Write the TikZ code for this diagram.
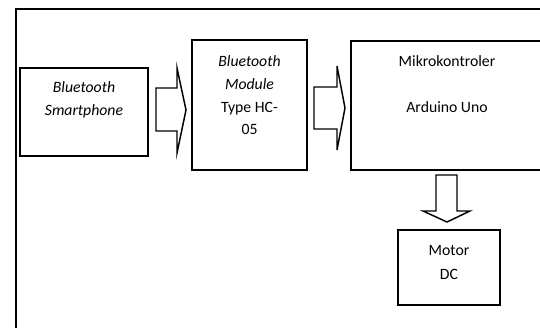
\documentclass[tikz,border=0pt]{standalone}
\usepackage{fontspec}
\setmainfont{Carlito}
\begin{document}
\begin{tikzpicture}[x=0.75pt,y=-0.75pt,
  box/.style={draw=black,line width=1.1pt},
  blockarrow/.style={draw=black,line width=1.1pt,line join=miter},
  lbl/.style={font=\fontsize{11.8}{14}\selectfont,inner sep=0pt,anchor=base},
  frame/.style={draw=black,line width=1.4pt}]
\useasboundingbox (0,0) rectangle (540,328);
\clip (0,0) rectangle (540,328);
% outer frame (clipped at right and bottom)
\draw[frame] (16,340) -- (16,9) -- (550,9);
% boxes
\draw[box] (20,68) rectangle (148,156) node[pos=0.5] (phone) {};
\draw[box] (192,40) rectangle (307,170) node[pos=0.5] (module) {};
\draw[box] (351,41) rectangle (550,170) node[pos=0.5] (mcu) {};
\draw[box] (398,230) rectangle (500,305) node[pos=0.5] (motor) {};
% texts
\node[lbl] (t1a) at (84,93) {\itshape Bluetooth};
\node[lbl] (t1b) at (84,116) {\itshape Smartphone};
\node[lbl] (t2a) at (249.5,67) {\itshape Bluetooth};
\node[lbl] (t2b) at (249.5,90) {\itshape Module};
\node[lbl] (t2c) at (249.5,113) {Type HC-};
\node[lbl] (t2d) at (249.5,135) {05};
\node[lbl] (t3a) at (447,67) {Mikrokontroler};
\node[lbl] (t3b) at (447,113) {Arduino Uno};
\node[lbl] (t4a) at (449,256) {Motor};
\node[lbl] (t4b) at (449,280) {DC};
% block arrows
\draw[blockarrow] (156,88) -- (177,88) -- (177,68) -- (186,110) -- (177,153) -- (177,131) -- (156,131) -- cycle;
\draw[blockarrow] (314,87) -- (337,87) -- (337,66) -- (345,108) -- (337,150) -- (337,129) -- (314,129) -- cycle;
\draw[blockarrow] (436,175) -- (457,175) -- (457,211) -- (470,211) -- (447,222) -- (423,211) -- (436,211) -- cycle;
\end{tikzpicture}
\end{document}
